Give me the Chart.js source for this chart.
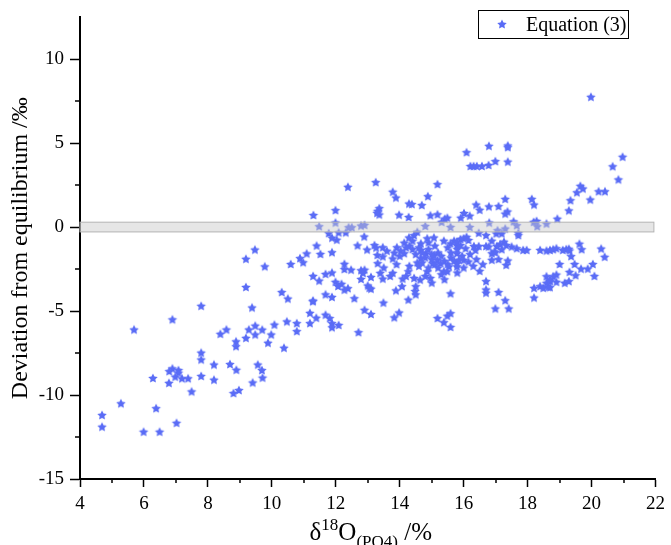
<!DOCTYPE html>
<html>
<head>
<meta charset="utf-8">
<script src="https://cdn.jsdelivr.net/npm/chart.js@4.4.1/dist/chart.umd.min.js"></script>
<style>
  html, body { margin: 0; padding: 0; background: #fff; }
</style>
</head>
<body>
<canvas id="chart" width="671" height="545"></canvas>
<script>
// δ18O(PO4) vs deviation from equilibrium
const seriesLabel = "Equation (3)";
const samples = [
  // low δ18O tail
  [9.19,-3.56],[7.79,-4.68],[9.38,-4.78],[6.89,-5.49],[5.69,-6.09],[8.58,-6.09],[8.39,-6.35],
  [9.48,-5.86],[9.28,-6.09],[9.48,-6.39],[9.19,-6.59],[8.88,-6.8],[8.88,-7.09],[7.79,-7.47],
  [7.79,-7.88],[8.19,-8.18],[8.69,-8.15],[8.89,-8.49],[9.56,-8.18],[6.89,-8.41],[6.79,-8.57],
  [7.08,-8.51],[7.08,-8.66],[6.98,-8.9],[7.19,-9.0],[7.38,-9.0],[6.28,-8.98],[6.78,-9.27],
  [7.79,-8.86],[8.19,-9.08],[7.49,-9.78],[8.8,-9.88],[8.97,-9.7],[9.4,-9.25],[5.28,-10.49],
  [6.38,-10.78],[4.69,-11.18],[4.69,-11.88],[7.02,-11.65],[5.99,-12.18],[6.49,-12.18],
  [10.31,-3.86],[10.5,-4.25],[11.19,-5.1],[11.28,-4.41],[9.7,-6.1],[10.08,-5.8],[9.98,-6.39],
  [9.88,-6.88],[10.38,-7.18],[10.47,-5.61],[10.78,-5.71],[10.78,-6.19],[11.19,-5.71],
  [11.39,-5.39],[9.69,-8.51],[9.71,-8.96],[9.19,-1.88],
  // 11 - 13
  [12.38,2.41],[11.99,1.02],[11.3,0.73],[11.48,0.06],[11.99,0.28],[11.78,-0.35],[12.09,-0.31],
  [12.31,-0.31],[12.4,0.0],[12.5,0.0],[12.79,0.1],[12.9,0.14],[12.03,-0.74],[12.89,-0.55],
  [11.4,-1.09],[12.68,-1.08],[13.21,-1.06],[12.98,-1.33],[11.88,-1.49],[11.52,-1.59],
  [11.09,-1.56],[9.47,-1.33],[10.88,-1.84],[10.98,-2.09],[10.59,-2.19],[9.78,-2.33],
  [12.27,-2.18],[12.27,-2.49],[12.48,-2.53],[12.79,-2.56],[12.9,-2.53],[12.85,-2.72],
  [11.88,-2.7],[11.68,-2.78],[11.29,-2.9],[11.48,-3.18],[12.79,-3.08],[13.1,-2.96],
  [11.99,-3.25],[12.18,-3.37],[12.07,-3.5],[12.38,-3.63],[12.27,-3.72],[13.0,-3.47],
  [13.1,-3.66],[11.68,-4.0],[11.88,-4.15],[12.58,-4.23],[11.29,-4.37],[12.9,-4.92],
  [13.1,-5.17],[11.68,-5.21],[11.81,-5.41],[11.88,-5.71],[12.09,-5.82],[11.88,-5.96],
  [12.71,-6.25],[13.25,2.69],[13.31,0.98],[11.88,-0.62],[13.26,-1.21],
  // 13 - 16
  [15.18,2.57],[13.78,2.12],[13.88,1.77],[14.88,1.85],[14.29,1.41],[14.38,1.38],[14.69,1.32],
  [13.36,1.14],[13.36,0.76],[13.29,0.86],[13.98,0.75],[14.28,0.61],[14.96,0.71],[15.18,0.77],
  [15.49,0.57],[15.41,0.51],[15.91,0.57],[16.01,0.85],[14.8,0.08],[15.59,0.02],[15.31,0.32],
  [14.55,-0.27],[14.45,-0.47],[14.29,-0.61],[14.14,-0.92],[13.47,-1.19],[13.91,-1.19],
  [14.03,-1.39],[13.83,-1.51],[13.3,-1.65],[13.47,-1.74],[13.31,-2.14],[13.78,-1.86],
  [14.14,-1.55],[14.66,-0.96],[14.86,-0.66],[15.07,-0.61],[15.38,-0.8],[15.59,-0.96],
  [15.79,-1.06],[16.0,-0.66],[14.66,-1.35],[14.82,-1.55],[15.07,-1.65],[15.18,-1.94],
  [15.03,-2.14],[15.28,-2.14],[15.54,-2.33],[15.79,-2.14],[16.0,-1.94],[14.66,-1.84],
  [14.55,-2.1],[15.38,-2.62],[15.49,-2.62],[14.86,-2.62],[14.96,-3.02],[14.27,-2.62],
  [13.78,-2.72],[13.39,-2.72],[13.47,-3.06],[14.09,-3.06],[14.45,-3.02],[14.64,-3.12],
  [13.05,-3.61],[14.5,-3.51],[14.48,-3.8],[14.07,-3.51],[13.88,-3.76],[14.5,-4.0],
  [14.27,-4.31],[13.49,-4.49],[15.59,-3.94],[13.98,-5.08],[13.83,-5.37],[15.18,-5.41],
  [15.49,-5.27],[15.59,-5.12],[15.38,-5.66],[15.59,-5.94],
  // dense core
  [14.3,-1.1],[14.4,-1.3],[14.5,-1.6],[14.6,-1.2],[14.7,-1.5],[14.8,-1.8],[14.9,-1.3],
  [15.0,-1.9],[15.1,-2.2],[15.2,-1.5],[15.3,-1.7],[15.4,-2.0],[15.5,-1.2],[15.6,-1.8],
  [15.7,-2.0],[15.8,-1.3],[14.6,-2.3],[14.7,-2.1],[14.9,-2.4],[15.0,-1.6],[15.1,-1.1],
  [15.2,-2.4],[15.3,-2.8],[15.5,-2.2],[15.6,-1.5],[15.7,-0.8],[15.9,-0.7],[14.9,-0.9],
  [14.4,-0.8],[14.2,-1.2],[14.0,-1.7],[13.9,-2.2],[13.6,-1.4],[13.5,-2.4],[13.7,-2.9],
  [14.3,-2.3],[14.2,-2.9],[14.8,-2.9],[15.0,-3.3],[15.4,-3.1],[15.8,-2.7],[16.0,-2.4],
  [16.2,-1.6],[16.4,-1.9],[16.6,-2.2],[16.5,-2.6],[16.3,-2.3],
  // 16 - 19
  [16.79,4.85],[17.38,4.87],[17.38,4.77],[16.09,4.47],[16.21,3.65],[16.31,3.65],[16.41,3.65],
  [16.57,3.65],[16.78,3.71],[16.99,3.94],[17.38,3.91],[17.3,1.69],[18.13,1.69],[18.2,1.35],
  [16.39,1.35],[16.5,1.04],[16.79,1.24],[17.09,1.26],[17.37,0.94],[17.3,0.81],[16.19,0.69],
  [16.8,0.28],[16.19,0.02],[17.56,0.35],[17.66,0.12],[18.19,0.32],[18.28,0.38],[18.3,0.06],
  [18.59,0.22],[17.06,-0.18],[17.3,-0.08],[17.71,-0.33],[17.71,-0.47],[16.47,-0.33],
  [16.7,-0.47],[17.02,-0.37],[17.19,-0.37],[16.09,-0.57],[16.15,-0.76],[16.88,-0.8],
  [17.26,-0.86],[17.14,-1.0],[15.79,-0.86],[15.9,-1.06],[16.06,-1.25],[16.32,-1.12],
  [16.47,-1.12],[16.37,-1.35],[16.7,-1.12],[16.78,-1.15],[17.04,-1.12],[16.96,-1.45],
  [17.19,-1.31],[17.33,-1.06],[17.5,-1.15],[17.66,-1.25],[17.86,-1.35],[17.97,-1.35],
  [18.39,-1.35],[18.59,-1.39],[18.7,-1.35],[18.8,-1.31],[18.9,-1.25],[15.79,-1.55],
  [15.95,-1.7],[15.85,-1.94],[16.15,-2.04],[16.88,-1.55],[16.99,-1.49],[16.88,-1.94],
  [17.09,-1.9],[17.38,-1.98],[17.33,-2.24],[15.79,-2.33],[16.7,-3.21],[16.7,-3.71],
  [16.7,-3.9],[17.09,-3.86],[17.3,-4.35],[16.99,-4.84],[17.41,-4.84],[18.2,-3.61],
  [18.2,-4.19],[18.39,-3.51],[18.59,-3.31],[18.7,-3.12],[18.8,-2.92],[18.49,-3.61],
  [18.64,-3.55],
  // high δ18O end
  [19.98,7.77],[20.97,4.2],[20.66,3.63],[20.84,2.85],[19.65,2.47],[19.73,2.31],[19.54,2.08],
  [20.22,2.14],[20.42,2.14],[19.34,1.61],[19.96,1.65],[19.29,1.0],[18.93,0.51],[19.1,-1.35],
  [19.21,-1.3],[19.29,-1.28],[19.31,-1.38],[19.62,-0.98],[19.69,-1.31],[20.3,-1.27],
  [20.41,-1.76],[19.36,-1.72],[19.0,-2.19],[19.47,-2.19],[20.04,-2.19],[19.67,-2.47],
  [19.88,-2.47],[19.31,-2.66],[19.5,-2.86],[20.09,-2.9],[18.9,-2.82],[18.59,-2.92],
  [18.9,-3.25],[18.7,-3.21],[19.16,-3.31],[19.29,-3.21],[18.7,-3.57]
];

const xTicks = [4, 6, 8, 10, 12, 14, 16, 18, 20, 22];
const xMinorTicks = [5, 7, 9, 11, 13, 15, 17, 19, 21];
const yTicks = [-15, -10, -5, 0, 5, 10];
const yMinorTicks = [-12.5, -7.5, -2.5, 2.5, 7.5];
const bandX = [4, 21.95];
const bandY = [-0.28, 0.3];

const starColor = "rgb(90,108,246)";
const serif = "'Liberation Serif', 'Times New Roman', serif";

function makeStar(r, color) {
  const c = document.createElement("canvas");
  c.width = c.height = Math.ceil(r * 2 + 2);
  const g = c.getContext("2d");
  const cx = c.width / 2, cy = c.height / 2 + 0.5;
  g.beginPath();
  for (let i = 0; i < 10; i++) {
    const a = -Math.PI / 2 + i * Math.PI / 5;
    const rr = i % 2 ? r * 0.5 : r;
    g.lineTo(cx + rr * Math.cos(a), cy + rr * Math.sin(a));
  }
  g.closePath();
  g.fillStyle = color;
  g.fill();
  return c;
}
const star = makeStar(5, starColor);

// grey band around zero, drawn over the points
const bandPlugin = {
  id: "band",
  afterDatasetsDraw(chart) {
    const { ctx, scales: { x, y } } = chart;
    const l = x.getPixelForValue(bandX[0]), r = x.getPixelForValue(bandX[1]);
    const t = y.getPixelForValue(bandY[1]), b = y.getPixelForValue(bandY[0]);
    ctx.save();
    ctx.fillStyle = "rgba(200,200,200,0.45)";
    ctx.fillRect(l, t, r - l, b - t);
    ctx.strokeStyle = "#b4b4b4";
    ctx.lineWidth = 1;
    ctx.strokeRect(l, t, r - l, b - t);
    ctx.restore();
  }
};

// minor ticks, legend box and the x title with sub/superscripts
const extrasPlugin = {
  id: "extras",
  afterDraw(chart) {
    const { ctx, scales: { x, y }, chartArea } = chart;
    ctx.save();
    ctx.strokeStyle = "#000";
    ctx.lineWidth = 1.5;
    ctx.beginPath();
    xMinorTicks.forEach(v => {
      const px = Math.round(x.getPixelForValue(v));
      ctx.moveTo(px, chartArea.bottom);
      ctx.lineTo(px, chartArea.bottom + 4);
    });
    yMinorTicks.forEach(v => {
      const py = Math.round(y.getPixelForValue(v));
      ctx.moveTo(chartArea.left, py);
      ctx.lineTo(chartArea.left - 5, py);
    });
    ctx.stroke();

    // legend
    ctx.lineWidth = 1;
    ctx.strokeStyle = "#000";
    ctx.strokeRect(478.5, 10.5, 150, 28);
    ctx.drawImage(star, 502 - star.width / 2, 24 - star.height / 2);
    ctx.fillStyle = "#000";
    ctx.font = "20px " + serif;
    ctx.textBaseline = "alphabetic";
    ctx.textAlign = "left";
    ctx.fillText(chart.data.datasets[0].label, 526, 31);

    // x axis title
    const parts = [
      { t: "δ", size: 25, dy: 0 },
      { t: "18", size: 17, dy: -10 },
      { t: "O", size: 25, dy: 0 },
      { t: "(PO4)", size: 17, dy: 7 },
      { t: " /%", size: 25, dy: 0 }
    ];
    let w = 0;
    parts.forEach(p => { ctx.font = p.size + "px " + serif; p.w = ctx.measureText(p.t).width; w += p.w; });
    let cx = (chartArea.left + chartArea.right) / 2 - w / 2 + 3;
    const base = 540;
    parts.forEach(p => {
      ctx.font = p.size + "px " + serif;
      ctx.fillText(p.t, cx, base + p.dy);
      cx += p.w;
    });
    ctx.restore();
  }
};

new Chart(document.getElementById("chart"), {
  type: "scatter",
  data: {
    datasets: [{
      label: seriesLabel,
      data: samples.map(([x, y]) => ({ x, y })),
      pointStyle: star,
      pointRadius: 5,
      showLine: false
    }]
  },
  options: {
    responsive: false,
    animation: false,
    devicePixelRatio: 1,
    layout: { padding: { top: 11, right: 11, left: 0, bottom: 0 } },
    plugins: { legend: { display: false }, tooltip: { enabled: false } },
    scales: {
      x: {
        type: "linear",
        min: 4,
        max: 22,
        afterBuildTicks: s => { s.ticks = xTicks.map(v => ({ value: v })); },
        afterFit: s => { s.height = 66; },
        border: { display: true, color: "#000", width: 2 },
        grid: { drawOnChartArea: false, drawTicks: true, tickLength: 8, tickColor: "#000", tickWidth: 1.5 },
        ticks: { color: "#000", padding: 6, font: { family: serif, size: 19 }, maxRotation: 0 }
      },
      y: {
        type: "linear",
        min: -15,
        max: 12.5,
        afterBuildTicks: s => { s.ticks = yTicks.map(v => ({ value: v })); },
        afterFit: s => { s.width = 80; },
        border: { display: true, color: "#000", width: 2 },
        grid: { drawOnChartArea: false, drawTicks: true, tickLength: 10, tickColor: "#000", tickWidth: 1.5 },
        ticks: { color: "#000", padding: 6, font: { family: serif, size: 19 } },
        title: {
          display: true,
          text: "Deviation from equilibrium /‰",
          color: "#000",
          font: { family: serif, size: 24 },
          padding: { top: 6, bottom: 0 }
        }
      }
    }
  },
  plugins: [bandPlugin, extrasPlugin]
});
</script>
</body>
</html>
